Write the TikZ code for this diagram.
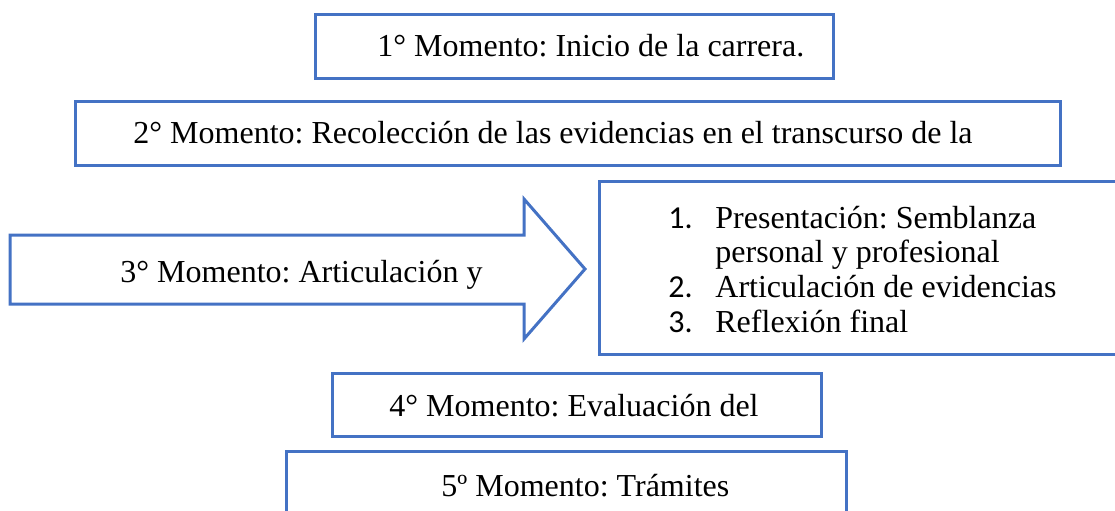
\documentclass[tikz,border=0pt]{standalone}
\usepackage{fontspec}
\setmainfont{Liberation Serif}
\newfontfamily\numfont{Carlito}
\definecolor{wordblue}{HTML}{4472C4}
\frenchspacing
\tikzset{
  boxline/.style={draw=wordblue, line width=1.5pt},
  mbox/.style={boxline, rectangle, inner sep=0pt},
  txt/.style={inner sep=0pt, anchor=base west, font=\fontsize{16}{19}\selectfont},
  num/.style={inner sep=0pt, anchor=base west, font=\numfont\fontsize{16}{19}\selectfont}
}
\begin{document}
\begin{tikzpicture}[x=0.5pt, y=-0.5pt]
\useasboundingbox (0,0) rectangle (1115,510);
\clip (0,0) rectangle (1115,510);
% boxes
\node[mbox, minimum width=259pt, minimum height=32pt] (b1) at (574,46) {};
\node[mbox, minimum width=492.5pt, minimum height=32pt] (b2) at (567.5,133) {};
\node[mbox, minimum width=265.5pt, minimum height=86.5pt] (b3) at (864.5,267.5) {};
\node[mbox, minimum width=244.5pt, minimum height=31.5pt] (b4) at (576.5,404.5) {};
\node[mbox, minimum width=280pt, minimum height=39.5pt] (b5) at (566,490.5) {};
% arrow
\draw[boxline, line join=miter] (10,235) -- (524,235) -- (524,199) -- (585,269) -- (524,339) -- (524,304) -- (10,304) -- cycle;
% texts
\node[txt] (t1) at (377,56) {1° Momento: Inicio de la carrera.};
\node[txt] (t2) at (133,143) {2° Momento: Recolección de las evidencias en el transcurso de la};
\node[txt] (t3) at (120,282) {3° Momento: Articulación y};
\node[txt] (t4) at (389,416) {4° Momento: Evaluación del};
\node[txt] (t5) at (441,496) {5º Momento: Trámites};
% list
\node[num] (n1) at (668,228) {1.};
\node[txt] (l1) at (715,228) {Presentación: Semblanza};
\node[txt] (l1b) at (715,262) {personal y profesional};
\node[num] (n2) at (668,297) {2.};
\node[txt] (l2) at (715,297) {Articulación de evidencias};
\node[num] (n3) at (668,332) {3.};
\node[txt] (l3) at (715,332) {Reflexión final};
\end{tikzpicture}
\end{document}
